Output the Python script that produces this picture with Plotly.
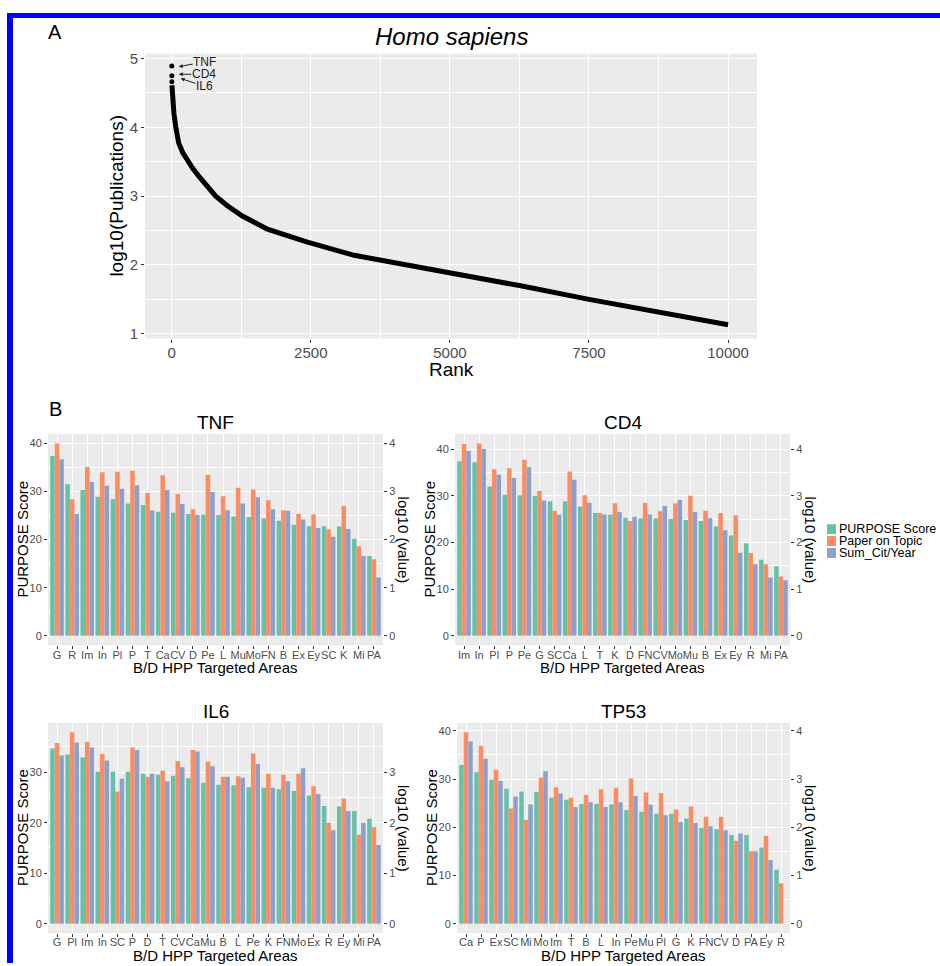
import plotly.graph_objects as go

# ---------------- Panel A data ----------------
top_genes = ["TNF", "CD4", "IL6"]
rank_top = [1, 2, 3]
pub_top = [4.89, 4.75, 4.66]
rank_curve = [4, 12, 40, 72, 126, 200, 270, 380, 486, 620, 791, 1000, 1270, 1720,
              2440, 3280, 4120, 5000, 6250, 7500, 8750, 10000]
pub_curve = [4.61, 4.49, 4.20, 4.01, 3.77, 3.63, 3.53, 3.40, 3.29, 3.15, 3.00, 2.86, 2.71, 2.52,
             2.33, 2.14, 2.02, 1.89, 1.70, 1.50, 1.31, 1.13]
rank_ticks = [0, 2500, 5000, 7500, 10000]

# ---------------- Panel B data ----------------
series_names = ["PURPOSE Score", "Paper on Topic", "Sum_Cit/Year"]

tnf_areas = ["G", "R", "Im", "In", "Pl", "P", "T", "Ca", "CV", "D", "Pe", "L", "Mu", "Mo", "FN",
             "B", "Ex", "Ey", "SC", "K", "Mi", "PA"]
tnf_purpose = [37.4, 31.5, 30.3, 28.9, 28.4, 27.5, 27.2, 25.8, 25.6, 25.3, 25.2, 25.1, 24.8, 24.7,
               24.4, 23.9, 23.1, 22.8, 22.8, 22.7, 20.2, 16.6]
tnf_paper = [4.00, 2.84, 3.51, 3.40, 3.41, 3.43, 2.97, 3.34, 2.95, 2.63, 3.35, 2.90, 3.08, 3.04,
             2.82, 2.61, 2.53, 2.52, 2.21, 2.70, 1.86, 1.59]
tnf_cit = [3.67, 2.53, 3.20, 3.12, 3.06, 3.13, 2.61, 3.03, 2.74, 2.51, 2.99, 2.61, 2.75, 2.88,
           2.63, 2.60, 2.42, 2.24, 2.06, 2.22, 1.66, 1.21]

cd4_areas = ["Im", "In", "Pl", "P", "Pe", "G", "SC", "Ca", "L", "T", "K", "D", "FN", "CV", "Mo",
             "Mu", "B", "Ex", "Ey", "R", "Mi", "PA"]
cd4_purpose = [37.4, 37.2, 32.0, 30.2, 30.1, 30.0, 28.8, 28.8, 27.7, 26.3, 25.9, 25.3, 25.1, 25.1,
               25.0, 24.8, 24.6, 23.4, 21.5, 19.8, 16.3, 14.9]
cd4_paper = [4.11, 4.12, 3.57, 3.59, 3.77, 3.10, 2.68, 3.52, 3.01, 2.63, 2.84, 2.46, 2.85, 2.67,
             2.84, 3.00, 2.68, 2.63, 2.58, 1.77, 1.53, 1.27]
cd4_cit = [3.96, 4.00, 3.45, 3.38, 3.61, 2.90, 2.59, 3.34, 2.85, 2.60, 2.65, 2.55, 2.60, 2.78,
           2.91, 2.65, 2.52, 2.26, 1.78, 1.53, 1.25, 1.19]

il6_areas = ["G", "Pl", "Im", "In", "SC", "P", "D", "T", "CV", "Ca", "Mu", "B", "L", "Pe", "K",
             "FN", "Mo", "Ex", "R", "Ey", "Mi", "PA"]
il6_purpose = [34.7, 33.5, 32.9, 30.1, 30.1, 30.1, 29.7, 29.5, 29.3, 28.8, 27.9, 27.5, 27.4, 27.0,
               26.9, 26.6, 26.3, 25.4, 23.3, 23.2, 22.3, 20.8]
il6_paper = [3.58, 3.79, 3.60, 3.36, 2.62, 3.49, 2.91, 3.03, 3.22, 3.44, 3.21, 2.91, 2.92, 3.37,
             2.97, 2.95, 2.97, 2.72, 2.00, 2.48, 1.76, 1.91]
il6_cit = [3.33, 3.59, 3.49, 3.23, 2.87, 3.44, 2.97, 2.82, 3.10, 3.41, 3.12, 2.91, 2.89, 3.16,
           2.69, 2.82, 3.08, 2.57, 1.85, 2.23, 2.00, 1.56]

tp53_areas = ["Ca", "P", "Ex", "SC", "Mi", "Mo", "Im", "T", "B", "L", "In", "Pe", "Mu", "Pl", "G",
              "K", "FN", "CV", "D", "PA", "Ey", "R"]
tp53_purpose = [32.9, 31.4, 29.9, 28.0, 27.4, 27.3, 26.1, 25.7, 24.9, 24.9, 24.8, 23.6, 23.2, 22.8,
                22.8, 21.8, 19.9, 19.6, 18.4, 18.4, 15.8, 11.2]
tp53_paper = [3.97, 3.69, 3.19, 2.39, 2.15, 3.03, 2.83, 2.61, 2.67, 2.79, 2.82, 3.01, 2.72, 2.71,
              2.37, 2.43, 2.22, 2.22, 1.72, 1.50, 1.82, 0.84]
tp53_cit = [3.78, 3.42, 2.96, 2.64, 2.48, 3.16, 2.70, 2.42, 2.52, 2.42, 2.52, 2.65, 2.47, 2.25,
            2.11, 2.09, 2.02, 1.94, 1.87, 1.50, 1.32, None]

# ---------------- styling ----------------
W, H = 940, 966
FONT = "Liberation Sans, Arial, Helvetica, sans-serif"
BG = "#EBEBEB"
TICKCOL = "#4D4D4D"
COLORS = ["#66C2A5", "#FC8D62", "#8DA0CB"]


def px(x):
    return x / W


def py(y):
    return 1 - y / H


def label(x, y, text, size, angle=0, anchor="center", color="black"):
    return dict(x=px(x), y=py(y), xref="paper", yref="paper", text=text, showarrow=False,
                textangle=angle, xanchor=anchor, yanchor="middle",
                font=dict(size=size, color=color, family=FONT))


fig = go.Figure()
annotations = []
shapes = []

# ---------------- Panel A ----------------
fig.add_trace(go.Scatter(x=rank_curve, y=pub_curve, mode="lines",
                         line=dict(color="black", width=5),
                         xaxis="x", yaxis="y", showlegend=False, hoverinfo="skip"))
fig.add_trace(go.Scatter(x=rank_top, y=pub_top, mode="markers",
                         marker=dict(color="black", size=5),
                         xaxis="x", yaxis="y", showlegend=False, hoverinfo="skip"))

A_x = (145, 757)
A_y = (50, 337)
layout = dict(
    xaxis=dict(domain=[px(A_x[0]), px(A_x[1])], anchor="y", range=[-480, 10520],
               tickvals=rank_ticks, tickformat="d", ticks="outside", ticklen=3, tickcolor="#333333",
               ticklabelstandoff=-3,
               tickfont=dict(size=15, color=TICKCOL, family=FONT),
               showgrid=True, gridcolor="white", gridwidth=1.2, zeroline=False, showline=False,
               minor=dict(dtick=1250, tick0=0, showgrid=True, gridcolor="white", gridwidth=0.6)),
    yaxis=dict(domain=[py(A_y[1]), py(A_y[0])], anchor="x", range=[0.93, 5.07],
               dtick=1, tick0=0, ticks="outside", ticklen=3, tickcolor="#333333",
               tickfont=dict(size=15, color=TICKCOL, family=FONT),
               showgrid=True, gridcolor="white", gridwidth=1.2, zeroline=False, showline=False,
               minor=dict(dtick=0.5, tick0=0, showgrid=True, gridcolor="white", gridwidth=0.6)),
)

# top gene labels with arrows
arrow_pos = [(126, 4.88, 26, -5), (126, 4.77, 25, 0), (160, 4.71, 24, 8)]
for g, (hx, hy, ax, ay) in zip(top_genes, arrow_pos):
    annotations.append(dict(x=hx, y=hy, xref="x", yref="y", text=g, showarrow=True,
                            ax=ax, ay=ay, arrowhead=2, arrowsize=0.8, arrowwidth=1,
                            arrowcolor="#222222", standoff=0, borderpad=0,
                            font=dict(size=12, color="#222222", family=FONT)))

annotations += [
    label(55, 28, "A", 20),
    label(451, 33, "<i>Homo sapiens</i>", 24),
    label(117, 193, "log10(Publications)", 19, angle=-90),
    label(451, 368, "Rank", 19),
    label(55, 408, "B", 20),
]

# ---------------- Panel B ----------------
panels = [
    ("TNF", tnf_areas, tnf_purpose, tnf_paper, tnf_cit, (48, 383), (433, 646)),
    ("CD4", cd4_areas, cd4_purpose, cd4_paper, cd4_cit, (455, 790), (433, 646)),
    ("IL6", il6_areas, il6_purpose, il6_paper, il6_cit, (48, 383), (724, 936)),
    ("TP53", tp53_areas, tp53_purpose, tp53_paper, tp53_cit, (457, 790), (724, 936)),
]

offsets = [-0.45, -0.15, 0.15]
for i, (name, areas, purpose, paper, cit, (x0, x1), (y0, y1)) in enumerate(panels):
    xn = i + 2
    yl = 2 * i + 2
    yr = 2 * i + 3
    vals = [purpose, paper, cit]
    axes = [f"y{yl}", f"y{yr}", f"y{yr}"]
    for k in range(3):
        fig.add_trace(go.Bar(x=areas, y=vals[k], xaxis=f"x{xn}", yaxis=axes[k],
                             name=series_names[k], marker=dict(color=COLORS[k], line=dict(width=0)),
                             width=0.3, offset=offsets[k], showlegend=False, hoverinfo="skip"))
    M = max(max(purpose), 10 * max(v for v in paper if v is not None),
            10 * max(v for v in cit if v is not None))
    lo, hi = -0.05 * M, 1.05 * M
    layout[f"xaxis{xn}"] = dict(domain=[px(x0), px(x1)], anchor=f"y{yl}", type="category",
                                categoryorder="array", categoryarray=areas,
                                range=[-0.6, len(areas) - 0.4], tickangle=0,
                                ticks="outside", ticklen=3, tickcolor="#333333",
                                ticklabelstandoff=-4,
                                tickfont=dict(size=11, color=TICKCOL, family=FONT),
                                showgrid=True, gridcolor="white", gridwidth=1,
                                zeroline=False, showline=False)
    layout[f"yaxis{yl}"] = dict(domain=[py(y1), py(y0)], anchor=f"x{xn}", range=[lo, hi],
                                dtick=10, tick0=0, ticks="outside", ticklen=3, tickcolor="#333333",
                                tickfont=dict(size=11, color=TICKCOL, family=FONT),
                                showgrid=True, gridcolor="white", gridwidth=1,
                                zeroline=False, showline=False,
                                minor=dict(dtick=5, tick0=0, showgrid=True, gridcolor="white",
                                           gridwidth=0.5))
    layout[f"yaxis{yr}"] = dict(overlaying=f"y{yl}", side="right", anchor=f"x{xn}",
                                range=[lo / 10, hi / 10], dtick=1, tick0=0,
                                ticks="outside", ticklen=3, tickcolor="#333333",
                                tickfont=dict(size=11, color=TICKCOL, family=FONT),
                                showgrid=False, zeroline=False, showline=False)
    cx = (x0 + x1) / 2
    cy = (y0 + y1) / 2
    annotations += [
        label(cx, y0 - 11, name, 19),
        label(x0 - 25, cy, "PURPOSE Score", 15, angle=-90),
        label(x1 + 20, cy, "log10 (value)", 15, angle=90),
        label(cx, y1 + 22, "B/D HPP Targeted Areas", 15),
    ]

# manual legend next to CD4
leg_y = [529, 541, 553]
for k in range(3):
    shapes.append(dict(type="rect", xref="paper", yref="paper",
                       x0=px(827), x1=px(836), y0=py(leg_y[k] + 5), y1=py(leg_y[k] - 5),
                       fillcolor=COLORS[k], line=dict(width=0)))
    annotations.append(dict(label(838, leg_y[k], series_names[k], 12.5, anchor="left"),
                            borderpad=0))

# blue frame (top and left)
shapes.append(dict(type="rect", xref="paper", yref="paper", x0=px(7), x1=1.0,
                   y0=py(14), y1=py(9), fillcolor="#0000FF", line=dict(width=0)))
shapes.append(dict(type="rect", xref="paper", yref="paper", x0=px(7), x1=px(13),
                   y0=0, y1=py(9), fillcolor="#0000FF", line=dict(width=0)))

fig.update_layout(**layout)
fig.update_layout(width=W, height=H, autosize=False,
                  margin=dict(l=0, r=0, t=0, b=0),
                  paper_bgcolor="white", plot_bgcolor=BG,
                  barmode="overlay", showlegend=False,
                  font=dict(family=FONT),
                  annotations=annotations, shapes=shapes)

fig.write_html("out.html")
